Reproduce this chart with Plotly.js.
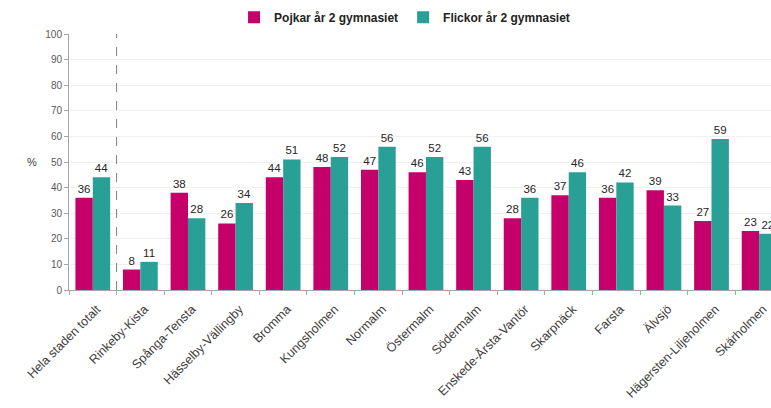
<!DOCTYPE html>
<html><head><meta charset="utf-8">
<script src="https://cdn.plot.ly/plotly-3.0.1.min.js"></script>
<style>html,body{margin:0;padding:0;background:#fff;}#chart{width:771px;height:408px;}</style>
</head><body><div id="chart"></div>
<script>
const categories = ["Hela staden totalt","Rinkeby-Kista","Spånga-Tensta","Hässelby-Vällingby","Bromma","Kungsholmen","Normalm","Östermalm","Södermalm","Enskede-Årsta-Vantör","Skarpnäck","Farsta","Älvsjö","Hägersten-Liljeholmen","Skärholmen"];
const pojkar = [36,8,38,26,44,48,47,46,43,28,37,36,39,27,23];
const flickor = [44,11,28,34,51,52,56,52,56,36,46,42,33,59,22];
const seriesNames = ["Pojkar år 2 gymnasiet","Flickor år 2 gymnasiet"];
const yTicks = [0,10,20,30,40,50,60,70,80,90,100];

const font = "Liberation Sans, Arial, sans-serif";
const labelFont = {family: font, size: 11.5, color: "#262626"};
const traces = [
  {type:"bar", name:seriesNames[0], x:categories, y:pojkar, text:pojkar.map(String), textposition:"outside", textfont:labelFont, cliponaxis:true, marker:{color:"#C6006A"}},
  {type:"bar", name:seriesNames[1], x:categories, y:flickor, text:flickor.map(String), textposition:"outside", textfont:labelFont, cliponaxis:true, marker:{color:"#28A096"}}
];
const layout = {
  width:771, height:408,
  margin:{l:69, r:0, t:34, b:118},
  paper_bgcolor:"#fff", plot_bgcolor:"#fff",
  font:{family:font, color:"#404040"},
  barmode:"group", bargap:0.27, bargroupgap:0,
  showlegend:true,
  legend:{orientation:"h", x:0.478, xanchor:"center", y:1.065, yanchor:"middle", font:{family:font, size:12, color:"#222", weight:"bold"}, itemwidth:30, traceorder:"normal"},
  xaxis:{type:"category", range:[-0.5,14.25], tickangle:-45, tickfont:{family:font, size:12.5, color:"#404040"}, ticklabelstandoff:6, ticklabelshift:4, showline:true, linecolor:"#a6a6a6", ticks:"outside", tickson:"boundaries", ticklen:4, tickcolor:"#a6a6a6", showgrid:false, fixedrange:true},
  yaxis:{range:[0,100], tickvals:yTicks, ticktext:yTicks.map(String), tickfont:{family:font, size:10, color:"#595959"}, showline:true, linecolor:"#a6a6a6", ticks:"outside", ticklen:4, tickcolor:"#a6a6a6", showgrid:true, gridcolor:"#f0f0f0", zeroline:false, fixedrange:true},
  shapes:[{type:"line", xref:"x", yref:"paper", x0:0.5, x1:0.5, y0:0, y1:1, line:{color:"#808080", width:1, dash:"dash"}}],
  annotations:[{text:"%", xref:"paper", yref:"y", x:0, y:50, xanchor:"right", xshift:-30, showarrow:false, font:{family:font, size:11, color:"#404040"}}]
};
Plotly.newPlot("chart", traces, layout, {displayModeBar:false, staticPlot:true});
</script></body></html>
